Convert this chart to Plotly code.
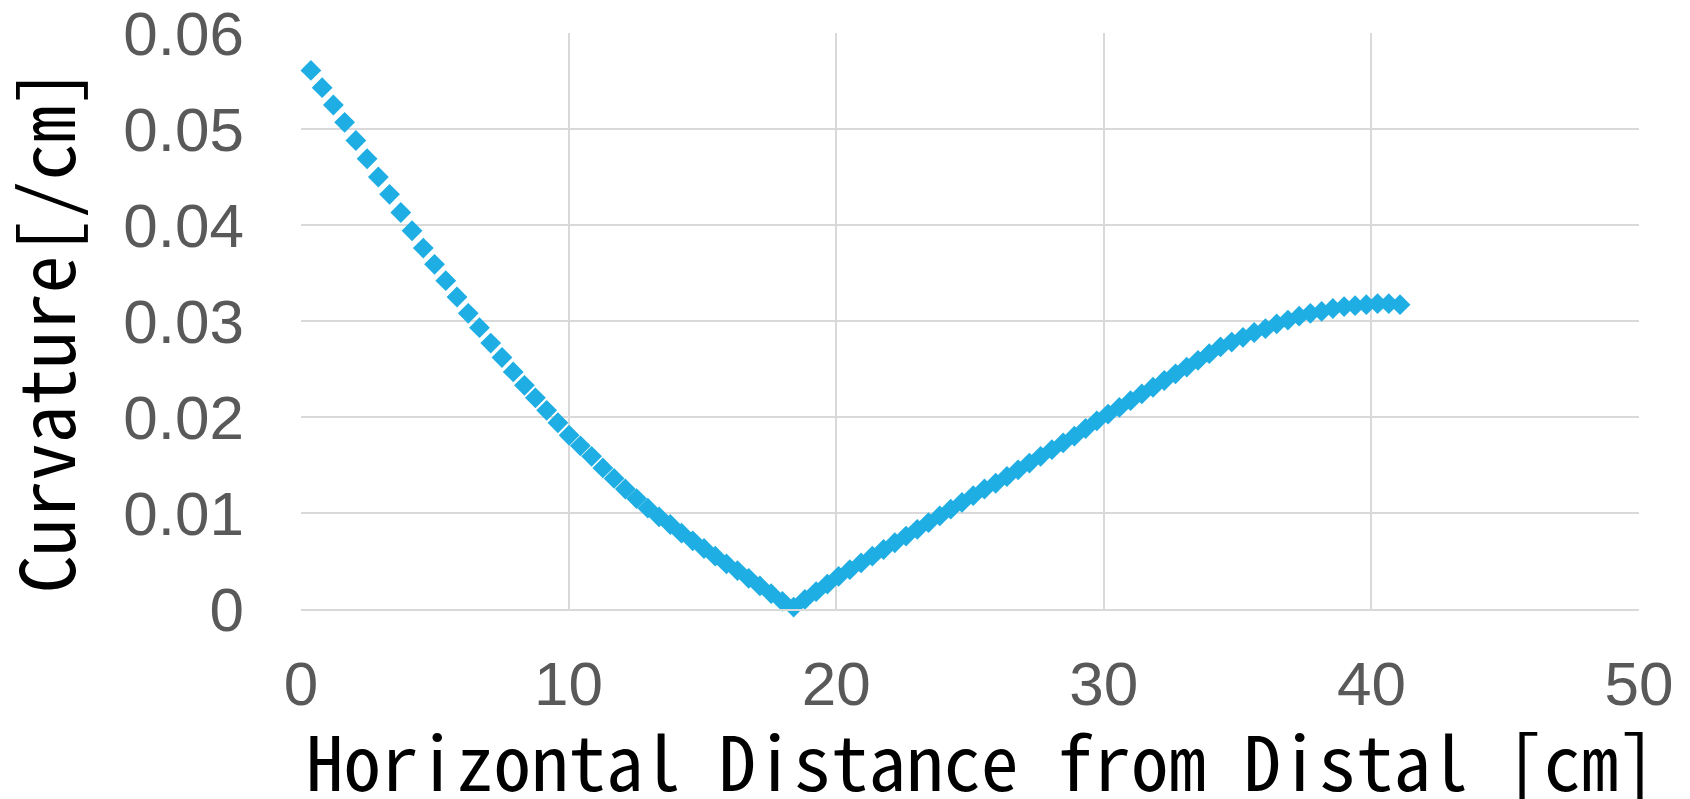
import plotly.graph_objects as go

distance_cm = [
    0.37, 0.79, 1.21, 1.63, 2.05, 2.47, 2.89, 3.31, 3.73, 4.15,
    4.57, 4.99, 5.41, 5.83, 6.25, 6.67, 7.09, 7.51, 7.93, 8.35,
    8.76, 9.18, 9.60, 10.02, 10.44, 10.86, 11.28, 11.70, 12.12, 12.54,
    12.96, 13.38, 13.80, 14.22, 14.64, 15.06, 15.48, 15.90, 16.31, 16.73,
    17.15, 17.57, 17.99, 18.41, 18.83, 19.25, 19.67, 20.09, 20.51, 20.93,
    21.35, 21.77, 22.19, 22.61, 23.03, 23.45, 23.87, 24.28, 24.70, 25.12,
    25.54, 25.96, 26.38, 26.80, 27.22, 27.64, 28.06, 28.48, 28.90, 29.32,
    29.74, 30.16, 30.58, 31.00, 31.42, 31.84, 32.26, 32.68, 33.10, 33.52,
    33.94, 34.36, 34.78, 35.20, 35.62, 36.04, 36.46, 36.88, 37.30, 37.72,
    38.14, 38.56, 38.98, 39.39, 39.81, 40.23, 40.65, 41.07,
]

curvature = [
    0.0561, 0.0543, 0.0525, 0.0507, 0.0488, 0.0469, 0.0450, 0.0432, 0.0413, 0.0394,
    0.0376, 0.0359, 0.0342, 0.0325, 0.0308, 0.0293, 0.0277, 0.0262, 0.0247, 0.0233,
    0.0220, 0.0207, 0.0194, 0.0181, 0.0170, 0.0159, 0.0147, 0.0136, 0.0125, 0.0115,
    0.0105, 0.0096, 0.0088, 0.0079, 0.0071, 0.0063, 0.0055, 0.0047, 0.0040, 0.0032,
    0.0024, 0.0016, 0.0008, 0.0002, 0.0010, 0.0018, 0.0026, 0.0034, 0.0041, 0.0048,
    0.0055, 0.0062, 0.0069, 0.0076, 0.0083, 0.0090, 0.0097, 0.0104, 0.0111, 0.0118,
    0.0125, 0.0131, 0.0138, 0.0145, 0.0152, 0.0159, 0.0166, 0.0173, 0.0180, 0.0188,
    0.0196, 0.0203, 0.0210, 0.0217, 0.0224, 0.0231, 0.0238, 0.0245, 0.0252, 0.0259,
    0.0266, 0.0273, 0.0278, 0.0283, 0.0288, 0.0292, 0.0297, 0.0301, 0.0305, 0.0308,
    0.0310, 0.0313, 0.0315, 0.0316, 0.0317, 0.0318, 0.0318, 0.0317,
]

x_ticks = [0, 10, 20, 30, 40, 50]
y_ticks = [0, 0.01, 0.02, 0.03, 0.04, 0.05, 0.06]
y_tick_text = ["0", "0.01", "0.02", "0.03", "0.04", "0.05", "0.06"]

x_title = "Horizontal Distance from Distal [cm]"
y_title = "Curvature[/cm]"

title_font = "Noto Sans Mono CJK JP, Noto Sans Mono CJK SC, Liberation Mono, monospace"
tick_font = dict(family="Liberation Sans, Arial, sans-serif", size=62, color="#595959")
grid_color = "#D9D9D9"

fig = go.Figure()
fig.add_trace(go.Scatter(
    x=distance_cm, y=curvature, mode="markers",
    marker=dict(symbol="diamond", size=16, color="#1FAEE3", line=dict(width=0)),
    showlegend=False, cliponaxis=False,
))

# the page body has an 8px default margin, so the figure starts at (8, 8)
fig.update_layout(
    width=1690, height=799,
    margin=dict(l=293, r=59, t=25, b=198, autoexpand=False),
    paper_bgcolor="white", plot_bgcolor="white",
    xaxis=dict(
        range=[0, 50], tickvals=x_ticks, showgrid=True, gridcolor=grid_color, gridwidth=1.5,
        zeroline=False, showline=True, linecolor=grid_color, linewidth=1.5, mirror=False,
        tickfont=tick_font, ticks="", ticklabelstandoff=20, automargin=False,
        ticklabeloverflow="allow",
    ),
    yaxis=dict(
        range=[0, 0.06], tickvals=y_ticks, ticktext=y_tick_text, showgrid=True,
        gridcolor=grid_color, gridwidth=1.5, zeroline=False, showline=False,
        tickfont=tick_font, ticks="", ticklabelstandoff=56, automargin=False,
        ticklabeloverflow="allow",
    ),
    annotations=[
        dict(text=x_title, xref="paper", yref="paper", x=0.5085, y=-0.2598,
             xanchor="center", yanchor="middle", showarrow=False,
             font=dict(family=title_font, size=75, color="black")),
        dict(text=y_title, xref="paper", yref="paper", x=-0.1934, y=0.4826,
             xanchor="center", yanchor="middle", showarrow=False, textangle=-90,
             font=dict(family=title_font, size=75, color="black")),
    ],
)

fig.write_html("out.html")
